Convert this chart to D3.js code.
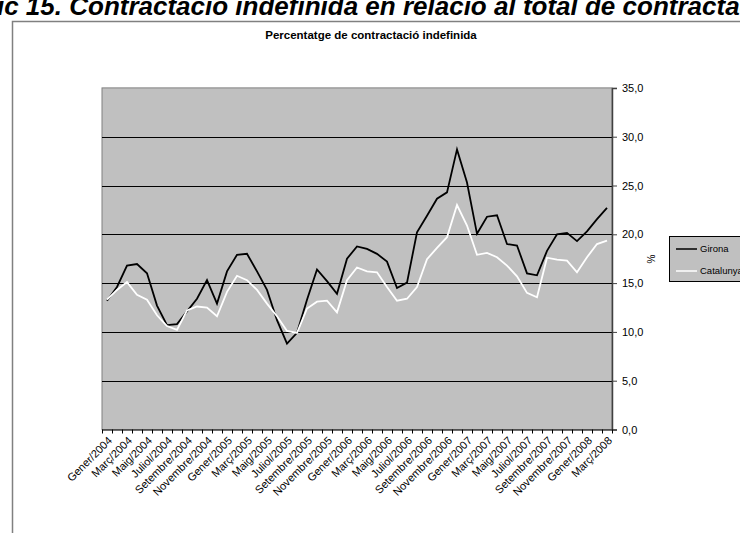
<!DOCTYPE html>
<html><head><meta charset="utf-8">
<script src="https://cdn.jsdelivr.net/npm/d3@7"></script>
<style>
html,body{margin:0;padding:0;background:#fff;overflow:hidden;}
svg{display:block;font-family:"Liberation Sans",Arial,sans-serif;}
</style></head>
<body>
<svg id="chart" width="740" height="533"></svg>
<script>
const categories = [
 "Gener/2004","Febrer/2004","Març/2004","Abril/2004","Maig/2004","Juny/2004","Juliol/2004","Agost/2004","Setembre/2004","Octubre/2004","Novembre/2004","Desembre/2004",
 "Gener/2005","Febrer/2005","Març/2005","Abril/2005","Maig/2005","Juny/2005","Juliol/2005","Agost/2005","Setembre/2005","Octubre/2005","Novembre/2005","Desembre/2005",
 "Gener/2006","Febrer/2006","Març/2006","Abril/2006","Maig/2006","Juny/2006","Juliol/2006","Agost/2006","Setembre/2006","Octubre/2006","Novembre/2006","Desembre/2006",
 "Gener/2007","Febrer/2007","Març/2007","Abril/2007","Maig/2007","Juny/2007","Juliol/2007","Agost/2007","Setembre/2007","Octubre/2007","Novembre/2007","Desembre/2007",
 "Gener/2008","Febrer/2008","Març/2008"];
const girona = [13.2,14.6,16.8,16.95,16.0,12.7,10.7,10.8,12.1,13.4,15.3,12.9,
 16.2,17.9,18.0,16.2,14.3,11.2,8.8,9.9,13.3,16.4,15.2,13.9,
 17.5,18.75,18.5,18.0,17.2,14.5,15.05,20.2,21.9,23.65,24.3,28.7,
 25.3,20.05,21.8,21.95,19.0,18.85,16.0,15.8,18.3,20.0,20.15,19.3,
 20.3,21.55,22.7];
const catalunya = [13.3,14.3,15.1,13.8,13.3,11.7,10.6,10.2,12.2,12.6,12.5,11.6,
 14.1,15.75,15.3,14.3,12.9,11.6,10.1,9.9,12.4,13.1,13.2,12.0,
 15.3,16.6,16.2,16.1,14.6,13.2,13.4,14.6,17.45,18.6,19.7,23.0,
 20.9,17.9,18.1,17.65,16.8,15.7,14.0,13.55,17.6,17.4,17.3,16.1,
 17.65,19.0,19.35];
const yTicks = [0,5,10,15,20,25,30,35];
const tickLabels = categories.filter((d,i)=>i%2===0);
const seriesNames = ["Girona","Catalunya"];
const seriesColors = ["#000000","#ffffff"];

const svg = d3.select("#chart");
const L=102, R=612, T=87.9, B=429.5;
const x = d3.scaleBand().domain(categories).range([L,R]).padding(0);
const y = d3.scaleLinear().domain([0,35]).range([B,T]);

// main title (clipped at top, as in the source)
const title = svg.append("text")
  .attr("y",15)
  .style("font-size","26px").style("font-weight","bold").style("font-style","italic")
  .text("Gràfic 15. Contractació indefinida en relació al total de contractació");
const pre = svg.append("text").style("font-size","26px").style("font-weight","bold").style("font-style","italic").text("Gràfic 15. ");
const pw = pre.node().getComputedTextLength(); pre.remove();
title.attr("x", 62 - pw);

// outer frame
svg.append("path").attr("d","M12.5,533 V21.5 H740").attr("fill","none").attr("stroke","#808080").attr("stroke-width",1.5);

// subtitle
svg.append("text").attr("x",371).attr("y",39).attr("text-anchor","middle")
  .style("font-size","11.5px").style("font-weight","bold").text("Percentatge de contractació indefinida");

// plot area
svg.append("rect").attr("x",L).attr("y",T).attr("width",R-L).attr("height",B-T)
  .attr("fill","#c0c0c0").attr("stroke","#808080").attr("stroke-width",1);

// gridlines
svg.append("g").selectAll("line").data(yTicks.filter(d=>d>0&&d<35)).join("line")
  .attr("x1",L).attr("x2",R).attr("y1",d=>Math.round(y(d))+0.5).attr("y2",d=>Math.round(y(d))+0.5)
  .attr("stroke","#000").attr("stroke-width",1);

// right axis
const ya = svg.append("g").attr("transform",`translate(${R},0)`)
  .call(d3.axisRight(y).tickValues(yTicks).tickSize(5).tickPadding(5).tickFormat(d=>d.toFixed(1).replace(".",",")));
ya.select(".domain").attr("stroke","#404040").attr("stroke-width",1.5);
ya.selectAll(".tick line").attr("stroke","#404040");
ya.selectAll(".tick text").style("font-size","11px").attr("fill","#000");

// bottom axis line + ticks at band boundaries
svg.append("line").attr("x1",L).attr("x2",R).attr("y1",B+0.5).attr("y2",B+0.5).attr("stroke","#404040").attr("stroke-width",1.5);
const bounds = categories.map(c=>x(c)).concat([R]);
svg.append("g").selectAll("line").data(bounds).join("line")
  .attr("x1",d=>Math.round(d)+0.5).attr("x2",d=>Math.round(d)+0.5).attr("y1",B).attr("y2",B+4)
  .attr("stroke","#000").attr("stroke-width",1);
svg.append("g").selectAll("text").data(tickLabels).join("text")
  .attr("transform",d=>`translate(${x(d)+x.bandwidth()/2+3},${B+9}) rotate(-45)`)
  .attr("text-anchor","end").attr("dy","0.35em")
  .style("font-size","11px").text(d=>d);

// lines
const line = d3.line().x((d,i)=>x(categories[i])+x.bandwidth()/2).y(d=>y(d));
[girona,catalunya].forEach((s,k)=>{
  svg.append("path").datum(s).attr("d",line).attr("fill","none")
    .attr("stroke",seriesColors[k]).attr("stroke-width",1.8).attr("stroke-linejoin","miter");
});

// y label
svg.append("text").attr("transform","translate(651,259) rotate(-90)").attr("text-anchor","middle")
  .attr("dy","0.35em").style("font-size","10px").text("%");

// legend
const lg = svg.append("g");
lg.append("rect").attr("x",669.5).attr("y",236.5).attr("width",80).attr("height",45)
  .attr("fill","#c0c0c0").attr("stroke","#000").attr("stroke-width",1);
seriesNames.forEach((n,k)=>{
  const yy = 249 + k*22;
  lg.append("line").attr("x1",676).attr("x2",697).attr("y1",yy).attr("y2",yy).attr("stroke",seriesColors[k]).attr("stroke-width",1.5);
  lg.append("text").attr("x",700).attr("y",yy).attr("dy","0.35em").style("font-size","9.5px").text(n);
});
</script>
</body></html>
